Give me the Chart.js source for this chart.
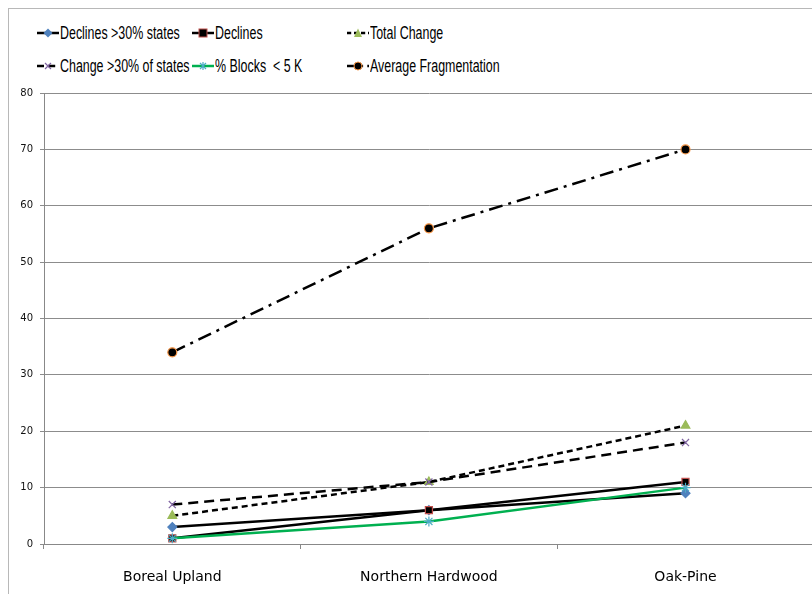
<!DOCTYPE html>
<html>
<head>
<meta charset="utf-8">
<script src="https://cdn.jsdelivr.net/npm/chart.js@4"></script>
<style>
  html, body { margin: 0; padding: 0; background: #fff; }
  #wrap { position: relative; width: 812px; height: 594px; overflow: hidden; }
  #frame { position: absolute; left: 8px; top: 8px; width: 900px; height: 700px; border: 1px solid #b8b8b8; box-sizing: border-box; }
  #legend { position: absolute; left: 0; top: 0; width: 812px; height: 84px; font-family: "Liberation Sans", Arial, sans-serif; font-size: 17.5px; color: #000; }
  .item { position: absolute; display: flex; align-items: center; height: 20px; white-space: nowrap; }
  .item svg { margin-right: 1px; flex: none; }
  .item span { display: inline-block; transform: scaleX(0.71); transform-origin: left center; }
  canvas { position: absolute; left: 0; top: 0; }
</style>
</head>
<body>
<div id="wrap">
  <div id="frame"></div>
  <div id="legend"></div>
  <canvas id="myChart" width="820" height="594"></canvas>
</div>
<script>
document.addEventListener("DOMContentLoaded", function () {
    var categories = ['Boreal Upland', 'Northern Hardwood', 'Oak-Pine'];
    var seriesNames = ['Declines >30% states', 'Declines', 'Total Change', 'Change >30% of states', '% Blocks  < 5 K', 'Average Fragmentation'];
    var declines30 = [3, 6, 9];
    var declines = [1, 6, 11];
    var totalChange = [5, 11, 21];
    var change30 = [7, 11, 18];
    var blocks5k = [1, 4, 10];
    var avgFragmentation = [34, 56, 70];
    var yTicks = [0, 10, 20, 30, 40, 50, 60, 70, 80];

    var styles = [
        { line: '#000000', dash: [], width: 2.5, point: 'rectRot', fill: '#4f81bd', border: '#4f81bd', radius: 4.5 },
        { line: '#000000', dash: [], width: 2.5, point: 'rect', fill: '#000000', border: '#c0504d', radius: 5 },
        { line: '#000000', dash: [6, 4], width: 2.5, point: 'triangle', fill: '#9bbb59', border: '#9bbb59', radius: 5 },
        { line: '#000000', dash: [10, 6], width: 2.5, point: 'crossRot', fill: '#8064a2', border: '#8064a2', radius: 5 },
        { line: '#00b050', dash: [], width: 2.5, point: 'star', fill: '#4bacc6', border: '#4bacc6', radius: 5 },
        { line: '#000000', dash: [14, 6, 3, 6], width: 2.5, point: 'circle', fill: '#000000', border: '#f79646', radius: 4.5 }
    ];
    var values = [declines30, declines, totalChange, change30, blocks5k, avgFragmentation];

    var datasets = values.map(function (v, i) {
        var s = styles[i];
        return {
            label: seriesNames[i],
            data: v,
            order: values.length - i, // later series drawn on top, like the original
            borderColor: s.line,
            borderWidth: s.width,
            borderDash: s.dash,
            pointStyle: s.point,
            pointRadius: s.radius,
            pointBackgroundColor: s.fill,
            pointBorderColor: s.border,
            pointBorderWidth: 1.2,
            tension: 0,
            fill: false
        };
    });

    new Chart(document.getElementById('myChart'), {
        type: 'line',
        data: { labels: categories, datasets: datasets },
        options: {
            responsive: false,
            animation: false,
            layout: { padding: { top: 93, left: 0, right: 0, bottom: 0 } },
            plugins: { legend: { display: false }, tooltip: { enabled: false } },
            scales: {
                x: {
                    offset: true,
                    grid: { display: true, offset: true, drawOnChartArea: false, color: '#888888', tickLength: 5 },
                    border: { color: '#888888' },
                    ticks: { color: '#000', font: { family: 'DejaVu Sans', size: 14 }, padding: 20 },
                    afterFit: function (scale) { scale.height = 50; }
                },
                y: {
                    min: 0, max: 80,
                    afterBuildTicks: function (scale) { scale.ticks = yTicks.map(function (t) { return { value: t }; }); },
                    grid: { color: '#8c8c8c', tickLength: 4 },
                    border: { color: '#888888' },
                    ticks: { color: '#111', font: { family: 'DejaVu Sans', size: 10 }, padding: 7 },
                    afterFit: function (scale) { scale.width = 44; }
                }
            }
        }
    });

    // HTML legend, three columns by two rows
    var legend = document.getElementById('legend');
    var cols = [37, 192, 347];
    var rows = [23, 56];
    seriesNames.forEach(function (name, i) {
        var s = styles[i];
        var item = document.createElement('div');
        item.className = 'item';
        item.style.left = cols[i % 3] + 'px';
        item.style.top = rows[Math.floor(i / 3)] + 'px';
        var dash = s.dash.length ? ' stroke-dasharray="' + s.dash.map(function (d) { return d * 0.7; }).join(',') + '"' : '';
        var marker = '';
        if (s.point === 'rectRot') marker = '<polygon points="11,5.5 15.5,10 11,14.5 6.5,10" fill="' + s.fill + '"/>';
        else if (s.point === 'rect') marker = '<rect x="7" y="6" width="8" height="8" fill="' + s.fill + '" stroke="' + s.border + '"/>';
        else if (s.point === 'triangle') marker = '<polygon points="11,5.5 15,14 7,14" fill="' + s.fill + '"/>';
        else if (s.point === 'crossRot') marker = '<path d="M8,7 L14,13 M14,7 L8,13" stroke="' + s.fill + '" stroke-width="1.2"/>';
        else if (s.point === 'star') marker = '<path d="M8,7 L14,13 M14,7 L8,13 M11,6 L11,14" stroke="' + s.fill + '" stroke-width="1.2"/>';
        else if (s.point === 'circle') marker = '<circle cx="11" cy="10" r="4" fill="' + s.fill + '" stroke="' + s.border + '"/>';
        item.innerHTML = '<svg width="22" height="20"><line x1="0" y1="10" x2="22" y2="10" stroke="' + s.line + '" stroke-width="2.5"' + dash + '/>' + marker + '</svg><span>' + name.replace(/ /g, '&nbsp;') + '</span>';
        legend.appendChild(item);
    });
});
</script>
</body>
</html>
